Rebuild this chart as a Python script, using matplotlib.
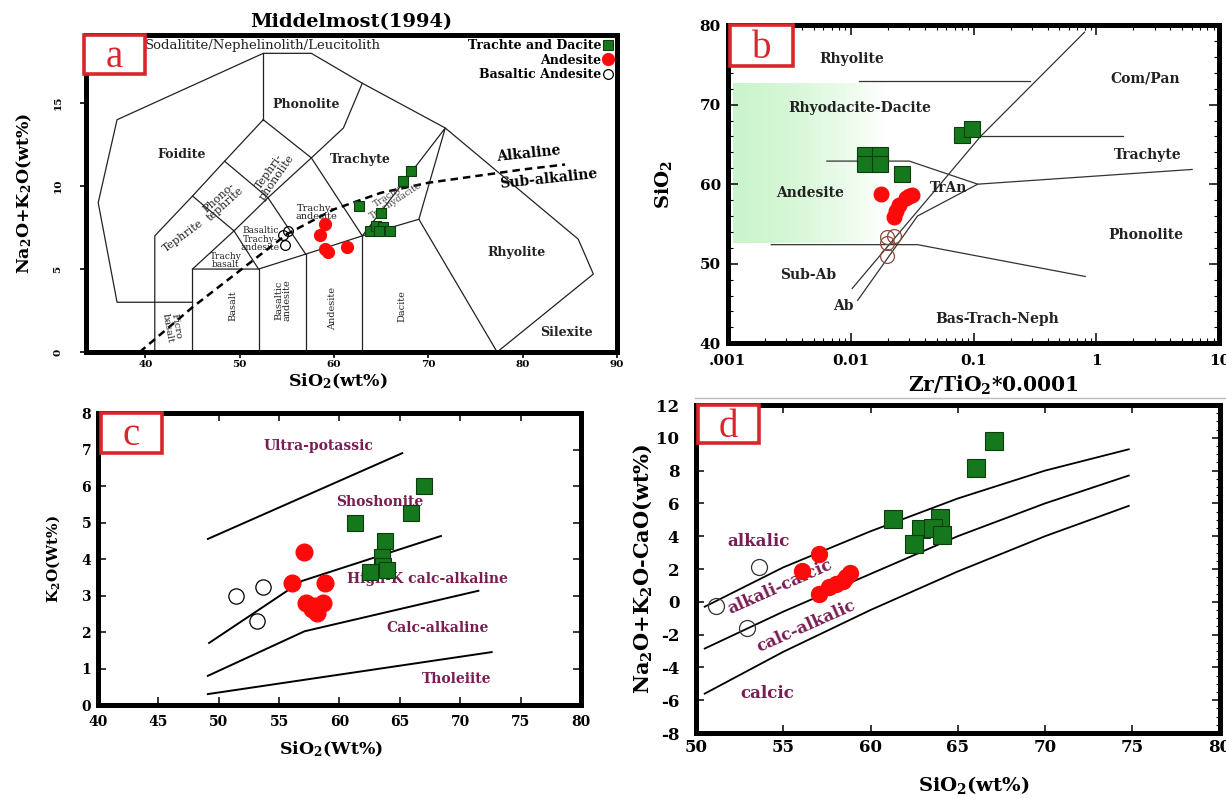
import numpy as np
import matplotlib
matplotlib.use("Agg")
import matplotlib.pyplot as plt
from matplotlib.patches import Rectangle
from matplotlib.lines import Line2D
from matplotlib.ticker import MultipleLocator, FixedLocator, FixedFormatter, LogLocator, NullFormatter

plt.rcParams['font.family'] = 'DejaVu Serif'
plt.rcParams['font.weight'] = 'bold'
plt.rcParams['axes.labelweight'] = 'bold'
plt.rcParams['axes.titleweight'] = 'bold'
plt.rcParams['axes.unicode_minus'] = False
plt.rcParams['mathtext.fontset'] = 'custom'
plt.rcParams['mathtext.rm'] = 'DejaVu Serif:bold'
plt.rcParams['mathtext.it'] = 'DejaVu Serif:bold'
plt.rcParams['mathtext.bf'] = 'DejaVu Serif:bold'

GREEN = '#16781c'
RED = '#ff0a0a'
LABEL_RED = '#d8262c'
PURPLE = '#7a1d52'

# ---- Panel a: TAS (Middlemost 1994) ----
tas_green_x = [68.2, 67.3, 62.7, 65.0, 63.8, 64.5, 65.2, 65.9, 64.8]
tas_green_y = [10.9, 10.3, 8.8, 8.4, 7.3, 7.6, 7.55, 7.3, 7.3]
tas_red_x = [59.0, 58.5, 59.0, 59.4, 61.4]
tas_red_y = [7.7, 7.05, 6.2, 6.0, 6.3]
tas_open_x = [54.6, 55.1, 54.8]
tas_open_y = [7.05, 7.3, 6.45]

tas_lines = [
    [(45, 3), (37, 3), (35, 9), (37, 14), (52.5, 18), (57.6, 18), (63, 16.2),
     (71.8, 13.5), (85.9, 6.8), (87.5, 4.7), (77.3, 0)],
    [(41, 0), (41, 7), (45, 9.4), (48.4, 11.5), (52.5, 14)],
    [(45, 0), (45, 5), (52, 5), (57, 5.9), (63, 7), (69, 8), (77.3, 0)],
    [(52, 0), (52, 5)],
    [(57, 0), (57, 5.9)],
    [(63, 0), (63, 7)],
    [(45, 5), (49.4, 7.3), (53, 9.3), (57.6, 11.7), (61, 13.5), (63, 16.2)],
    [(45, 9.4), (49.4, 7.3), (52, 5)],
    [(48.4, 11.5), (53, 9.3), (57, 5.9)],
    [(52.5, 14), (52.5, 18)],
    [(52.5, 14), (57.6, 11.7), (63, 7)],
    [(63, 7), (71.8, 13.5), (69, 8)],
]
alk_x = [39.4, 45, 50, 55, 60, 65, 70, 75, 80, 84.5]
alk_y = [0.0, 2.7, 4.9, 7.1, 8.6, 9.6, 10.2, 10.6, 11.0, 11.3]

# ---- Panel b: Zr/TiO2 vs SiO2 ----
b_green_x = [0.0132, 0.0172, 0.0132, 0.0172, 0.0262, 0.081, 0.097]
b_green_y = [63.7, 63.7, 62.5, 62.5, 61.3, 66.2, 66.9]
b_red_x = [0.0175, 0.0317, 0.028, 0.0247, 0.0232, 0.0224, 0.030]
b_red_y = [58.8, 58.7, 58.3, 57.4, 56.6, 55.9, 58.5]
b_open_x = [0.0198, 0.0224, 0.0196, 0.0196]
b_open_y = [53.35, 53.5, 52.6, 51.0]

wf_lines = [
    [(0.0117, 73.0), (0.29, 73.0)],
    [(0.80, 79.1), (0.114, 66.0), (0.0103, 46.9)],
    [(0.114, 66.0), (1.65, 66.0)],
    [(0.0064, 62.9), (0.030, 62.9), (0.108, 60.0), (6.0, 61.85)],
    [(0.0114, 45.4), (0.035, 56.0), (0.108, 60.0)],
    [(0.00226, 52.4), (0.035, 52.4), (0.81, 48.4)],
]

# ---- Panel c: K2O vs SiO2 ----
c_green_x = [67.0, 65.9, 61.3, 63.8, 63.5, 63.6, 62.5, 63.9]
c_green_y = [6.0, 5.27, 5.0, 4.48, 4.05, 3.8, 3.65, 3.7]
c_red_x = [57.1, 56.1, 58.8, 57.25, 58.6, 57.7, 58.1, 57.9]
c_red_y = [4.2, 3.33, 3.33, 2.8, 2.79, 2.62, 2.52, 2.7]
c_open_x = [51.4, 53.7, 53.2]
c_open_y = [3.0, 3.22, 2.3]

c_lines = [
    ([49.1, 65.2], [4.55, 6.9]),
    ([49.2, 56.9, 68.4], [1.70, 3.40, 4.63]),
    ([49.1, 57.1, 71.5], [0.80, 2.02, 3.13]),
    ([49.1, 72.6], [0.30, 1.45]),
]

# ---- Panel d: MALI vs SiO2 ----
d_green_x = [67.1, 66.05, 61.3, 64.0, 62.9, 63.6, 64.1, 62.5]
d_green_y = [9.8, 8.15, 5.05, 5.1, 4.45, 4.5, 4.05, 3.55]
d_red_x = [57.05, 56.05, 57.05, 57.6, 58.05, 58.4, 58.6, 58.8]
d_red_y = [2.9, 1.85, 0.5, 0.9, 1.1, 1.25, 1.5, 1.75]
d_open_x = [53.6, 51.15, 52.9]
d_open_y = [2.1, -0.25, -1.6]

d_si = [50.5, 55, 60, 65, 70, 74.8]
d_alkalic = [-0.3, 2.1, 4.3, 6.3, 8.0, 9.3]
d_alkcalc = [-2.85, -0.6, 1.7, 4.0, 6.0, 7.7]
d_calcic = [-5.6, -3.05, -0.5, 1.85, 4.0, 5.85]


fig = plt.figure(figsize=(12.26, 7.99), dpi=100)
ax_a = fig.add_axes([0.0701, 0.5594, 0.4331, 0.3967])
ax_b = fig.add_axes([0.5936, 0.5703, 0.4010, 0.3984])
ax_c = fig.add_axes([0.0799, 0.1176, 0.3940, 0.3655])
ax_d = fig.add_axes([0.5677, 0.0826, 0.4270, 0.4105])


def thick_box(ax):
    for s in ax.spines.values():
        s.set_linewidth(3.6)


def panel_tag(ax, letter, x0, y0, w, h):
    ax.add_patch(Rectangle((x0, y0), w, h, transform=ax.transAxes,
                           facecolor='white', edgecolor=LABEL_RED, lw=2.6,
                           clip_on=False, zorder=20))
    ax.text(x0 + w / 2, y0 + h / 2 - 0.01, letter, transform=ax.transAxes,
            ha='center', va='center', color=LABEL_RED, fontsize=28,
            family='Liberation Serif', fontweight='normal', zorder=21, clip_on=False)


def scatter3(ax, gx, gy, rx, ry, ox, oy, sq, rc, oc, open_edge='black', labels=False):
    ax.plot(gx, gy, 's', ms=sq, mfc=GREEN, mec='#0b3d0e', mew=0.8, ls='none',
            zorder=5, label='Trachte and Dacite' if labels else None)
    ax.plot(rx, ry, 'o', ms=rc, mfc=RED, mec=RED, ls='none', zorder=5,
            label='Andesite' if labels else None)
    ax.plot(ox, oy, 'o', ms=oc, mfc='none', mec=open_edge, mew=0.9, ls='none',
            zorder=5, label='Basaltic Andesite' if labels else None)


# ===== Panel a =====
for seg in tas_lines:
    xs, ys = zip(*seg)
    ax_a.plot(xs, ys, color='#222222', lw=0.9, zorder=2)
ax_a.plot(alk_x, alk_y, color='black', lw=1.8, ls=(0, (3, 2)), zorder=3)
scatter3(ax_a, tas_green_x, tas_green_y, tas_red_x, tas_red_y, tas_open_x, tas_open_y,
         7.5, 8.5, 7, labels=True)
ax_a.set_xlim(33.7, 90)
ax_a.set_ylim(0, 19.1)
ax_a.set_xticks([40, 50, 60, 70, 80, 90])
ax_a.set_yticks([0, 5, 10, 15])
ax_a.tick_params(direction='out', length=4, width=1.2, labelsize=7.5)
ax_a.tick_params(axis='x', pad=2)
ax_a.tick_params(axis='y', labelrotation=90, pad=13)
for t in ax_a.get_yticklabels():
    t.set_va('center')
ax_a.set_xlabel('SiO$_2$(wt%)', fontsize=12.5)
ax_a.xaxis.set_label_coords(0.475, -0.062, transform=ax_a.transAxes)
ax_a.set_ylabel('Na$_2$O+K$_2$O(wt%)', fontsize=12.5)
ax_a.yaxis.set_label_coords(-0.097, 0.5, transform=ax_a.transAxes)
ax_a.set_title('Middelmost(1994)', fontsize=14, pad=6)
thick_box(ax_a)
leg = ax_a.legend(loc='upper right', markerfirst=False, frameon=False, fontsize=9,
                  handletextpad=0.1, labelspacing=0.1, borderaxespad=0.15,
                  handlelength=0.8, borderpad=0.2)

small = dict(fontsize=7, fontweight='normal', ha='center', va='center', color='#222222')
mid = dict(fontsize=9, fontweight='bold', ha='center', va='center', color='#222222')
ax_a.text(40, 18.45, 'Sodalitite/Nephelinolith/Leucitolith', fontsize=9.5, fontweight='normal',
          ha='left', va='center', color='#222222')
ax_a.text(57.0, 14.9, 'Phonolite', **mid)
ax_a.text(43.8, 11.9, 'Foidite', **mid)
ax_a.text(62.8, 11.6, 'Trachyte', **mid)
ax_a.text(79.4, 6.0, 'Rhyolite', **mid)
ax_a.text(84.6, 1.15, 'Silexite', **mid)
ax_a.text(80.6, 11.95, 'Alkaline', fontsize=10, rotation=6, ha='center', va='center')
ax_a.text(82.8, 10.45, 'Sub-alkaline', fontsize=10, rotation=6, ha='center', va='center')
ax_a.text(67.2, 2.8, 'Dacite', rotation=90, **small)
ax_a.text(59.8, 2.6, 'Andesite', rotation=90, **small)
ax_a.text(54.6, 3.1, 'Basaltic\nandesite', rotation=90, linespacing=0.9, **small)
ax_a.text(49.3, 2.8, 'Basalt', rotation=90, **small)
ax_a.text(42.8, 1.5, 'Picro\nbasalt', rotation=-80, linespacing=0.9, **small)
ax_a.text(44.0, 7.0, 'Tephrite', rotation=36, fontsize=8, fontweight='normal',
          ha='center', va='center', color='#222222')
ax_a.text(48.1, 9.1, 'Phono-\ntephrite', rotation=42, linespacing=0.9, fontsize=8,
          fontweight='normal', ha='center', va='center', color='#222222')
ax_a.text(53.5, 10.7, 'Tephri-\nphonolite', rotation=55, linespacing=0.9, fontsize=8,
          fontweight='normal', ha='center', va='center', color='#222222')
ax_a.text(58.1, 8.4, 'Trachy-\nandesite', linespacing=0.9, **small)
ax_a.text(52.2, 6.8, 'Basaltic\nTrachy-\nandesite', fontsize=6.5, fontweight='normal',
          ha='center', va='center', linespacing=0.9, color='#222222')
ax_a.text(48.5, 5.5, 'Trachy\nbasalt', fontsize=6.5, fontweight='normal', ha='center',
          va='center', linespacing=0.9, color='#222222')
ax_a.text(66.3, 9.3, 'Trachyte\nTrachydacite', fontsize=6.5, fontweight='normal', rotation=33,
          ha='center', va='center', linespacing=0.9, color='#444444')
panel_tag(ax_a, 'a', -0.004, 0.877, 0.115, 0.123)

# ===== Panel b =====
ax_b.set_xscale('log')
ax_b.set_autoscale_on(False)
ax_b.set_xlim(0.001, 10)
ax_b.set_ylim(40, 80)
t = np.linspace(0, 1, 256)
base = np.array([0.80, 0.96, 0.80])
grad = base[None, :] + (1 - base[None, :]) * (t ** 1.6)[:, None]
ax_b.imshow(grad[None, :, :], extent=[0.01, 0.32, 0.316, 0.817], transform=ax_b.transAxes,
            aspect='auto', zorder=0, interpolation='bilinear')
ax_b.set_xlim(0.001, 10)
ax_b.set_ylim(40, 80)
for seg in wf_lines:
    xs, ys = zip(*seg)
    ax_b.plot(xs, ys, color='#333333', lw=0.9, zorder=2)
scatter3(ax_b, b_green_x, b_green_y, b_red_x, b_red_y, b_open_x, b_open_y,
         11.5, 10.5, 10, open_edge='#8a4a3c')
ax_b.xaxis.set_major_locator(FixedLocator([0.001, 0.01, 0.1, 1, 10]))
ax_b.xaxis.set_major_formatter(FixedFormatter(['.001', '0.01', '0.1', '1', '10']))
ax_b.xaxis.set_minor_locator(LogLocator(base=10, subs=np.arange(2, 10), numticks=20))
ax_b.xaxis.set_minor_formatter(NullFormatter())
ax_b.set_yticks([40, 50, 60, 70, 80])
ax_b.yaxis.set_minor_locator(MultipleLocator(2))
ax_b.tick_params(which='both', direction='in', top=True, right=True, labelsize=11)
ax_b.tick_params(which='major', length=7, width=1.1)
ax_b.tick_params(which='minor', length=3.5, width=0.8)
ax_b.tick_params(axis='x', pad=8)
ax_b.tick_params(axis='y', pad=5)
ax_b.set_xlabel('Zr/TiO$_2$*0.0001', fontsize=14.5)
ax_b.xaxis.set_label_coords(0.54, -0.095, transform=ax_b.transAxes)
ax_b.set_ylabel('SiO$_2$', fontsize=14)
ax_b.yaxis.set_label_coords(-0.109, 0.5, transform=ax_b.transAxes)
thick_box(ax_b)
lb = dict(fontsize=10, fontweight='bold', ha='center', va='center', color='#222222')
ax_b.text(0.0101, 75.7, 'Rhyolite', **lb)
ax_b.text(2.5, 73.3, 'Com/Pan', **lb)
ax_b.text(0.0118, 69.6, 'Rhyodacite-Dacite', **lb)
ax_b.text(2.6, 63.65, 'Trachyte', **lb)
ax_b.text(0.0047, 58.9, 'Andesite', **lb)
ax_b.text(0.063, 59.5, 'TrAn', **lb)
ax_b.text(2.5, 53.6, 'Phonolite', **lb)
ax_b.text(0.0045, 48.6, 'Sub-Ab', **lb)
ax_b.text(0.0088, 44.7, 'Ab', **lb)
ax_b.text(0.155, 43.0, 'Bas-Trach-Neph', **lb)
panel_tag(ax_b, 'b', 0.005, 0.871, 0.128, 0.129)

# ===== Panel c =====
for xs, ys in c_lines:
    ax_c.plot(xs, ys, color='black', lw=1.4, zorder=2)
scatter3(ax_c, c_green_x, c_green_y, c_red_x, c_red_y, c_open_x, c_open_y, 12, 12, 11)
ax_c.set_xlim(40, 80)
ax_c.set_ylim(0, 8)
ax_c.set_xticks(np.arange(40, 81, 5))
ax_c.set_yticks(np.arange(0, 9, 1))
ax_c.tick_params(direction='in', top=True, right=True, length=6, width=1.1, labelsize=10)
ax_c.tick_params(axis='x', pad=7)
ax_c.tick_params(axis='y', pad=5)
ax_c.set_xlabel('SiO$_2$(Wt%)', fontsize=12.5)
ax_c.xaxis.set_label_coords(0.482, -0.12, transform=ax_c.transAxes)
ax_c.set_ylabel('K$_2$O(Wt%)', fontsize=11)
ax_c.yaxis.set_label_coords(-0.075, 0.5, transform=ax_c.transAxes)
thick_box(ax_c)
lc = dict(fontsize=10, fontweight='bold', ha='center', va='center', color=PURPLE)
ax_c.text(58.3, 7.1, 'Ultra-potassic', **lc)
ax_c.text(63.3, 5.55, 'Shoshonite', **lc)
ax_c.text(67.3, 3.45, 'High-K calc-alkaline', **lc)
ax_c.text(68.1, 2.1, 'Calc-alkaline', **lc)
ax_c.text(69.7, 0.7, 'Tholeiite', **lc)
panel_tag(ax_c, 'c', 0.006, 0.863, 0.127, 0.137)

# ===== Panel d =====
for ys in (d_alkalic, d_alkcalc, d_calcic):
    ax_d.plot(d_si, ys, color='black', lw=1.3, zorder=2)
scatter3(ax_d, d_green_x, d_green_y, d_red_x, d_red_y, d_open_x, d_open_y, 13, 11.5, 11.5,
         open_edge='#333333')
ax_d.set_xlim(50, 80)
ax_d.set_ylim(-8, 12)
ax_d.set_xticks(np.arange(50, 81, 5))
ax_d.set_yticks(np.arange(-8, 13, 2))
ax_d.yaxis.set_minor_locator(MultipleLocator(0.5))
ax_d.tick_params(which='both', direction='in', top=True, right=True, labelsize=12)
ax_d.tick_params(which='major', length=6, width=1.1)
ax_d.tick_params(which='minor', length=3, width=0.8, left=False)
ax_d.tick_params(axis='y', pad=12)
ax_d.tick_params(axis='x', pad=4)
ax_d.set_xlabel('SiO$_2$(wt%)', fontsize=14)
ax_d.xaxis.set_label_coords(0.53, -0.125, transform=ax_d.transAxes)
ax_d.set_ylabel('Na$_2$O+K$_2$O-CaO(wt%)', fontsize=15)
ax_d.yaxis.set_label_coords(-0.08, 0.5, transform=ax_d.transAxes)
thick_box(ax_d)
ld = dict(fontsize=12, fontweight='bold', ha='center', va='center', color=PURPLE)
ax_d.text(53.6, 3.65, 'alkalic', **ld)
ax_d.text(54.8, 0.9, 'alkali-calcic', rotation=24, **ld)
ax_d.text(56.3, -1.5, 'calc-alkalic', rotation=24, **ld)
ax_d.text(54.1, -5.6, 'calcic', **ld)
panel_tag(ax_d, 'd', 0.003, 0.884, 0.118, 0.116)

fig.add_artist(Line2D([0.567, 1.0], [0.502, 0.502], color='#bbbbbb', lw=1.0))

fig.savefig('out.png', dpi=100)
